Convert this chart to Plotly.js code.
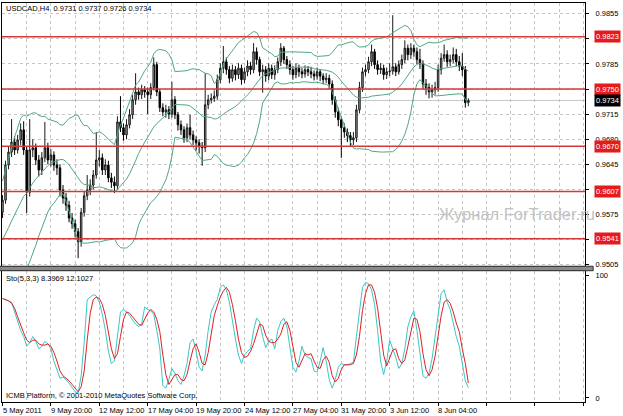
<!DOCTYPE html>
<html><head><meta charset="utf-8">
<script src="https://cdn.plot.ly/plotly-3.0.1.min.js"></script>
<style>html,body{margin:0;padding:0;background:#fff}#chart{width:623px;height:416px}</style>
</head><body><div id="chart"></div>
<script>
const symbolTitle = "USDCAD,H4";
const dateTickBars = [0,16,32,48,64,80,96,112,128,144];
const dateTickLabels = ["5 May 2011","9 May 20:00","12 May 12:00","17 May 04:00","19 May 20:00","24 May 12:00","27 May 04:00","31 May 20:00","3 Jun 12:00","8 Jun 04:00"];
const priceTicks = [0.9505,0.9540,0.9575,0.9610,0.9645,0.9680,0.9715,0.9750,0.9785,0.9820,0.9855];

const opens = [.9578,.9595,.9644,.9662,.9676,.9665,.9679,.9693,.9665,.9606,
.9665,.9668,.9651,.9637,.9654,.9668,.9651,.9658,.9644,.9640,
.9609,.9598,.9588,.9570,.9562,.9551,.9537,.9578,.9601,.9609,
.9616,.9630,.9651,.9654,.9637,.9644,.9626,.9620,.9615,.9704,
.9696,.9686,.9700,.9714,.9735,.9746,.9742,.9749,.9746,.9742,
.9752,.9784,.9746,.9724,.9718,.9721,.9715,.9735,.9714,.9700,
.9693,.9682,.9696,.9686,.9679,.9675,.9670,.9668,.9728,.9735,
.9737,.9740,.9763,.9779,.9788,.9777,.9765,.9777,.9770,.9779,
.9763,.9774,.9782,.9777,.9802,.9791,.9774,.9777,.9768,.9779,
.9770,.9777,.9788,.9807,.9791,.9784,.9777,.9770,.9779,.9774,
.9771,.9777,.9774,.9771,.9768,.9774,.9768,.9763,.9765,.9757,
.9735,.9718,.9707,.9696,.9690,.9685,.9679,.9682,.9721,.9752,
.9774,.9777,.9788,.9802,.9784,.9777,.9779,.9770,.9774,.9775,
.9781,.9774,.9784,.9791,.9807,.9798,.9807,.9802,.9791,.9785,
.9757,.9752,.9746,.9749,.9752,.9777,.9793,.9798,.9788,.9791,
.9798,.9788,.9782,.9777,.9731];
const highs = [.9602,.9650,.9670,.9708,.9684,.9686,.9702,.9705,.9670,.9708,
.9680,.9674,.9658,.9662,.9704,.9675,.9666,.9663,.9652,.9645,
.9616,.9605,.9594,.9577,.9568,.9556,.9584,.9608,.9630,.9624,
.9637,.9690,.9665,.9660,.9652,.9650,.9633,.9628,.9712,.9740,
.9702,.9708,.9722,.9742,.9772,.9752,.9756,.9754,.9752,.9758,
.9794,.9788,.9750,.9730,.9728,.9726,.9760,.9740,.9718,.9706,
.9698,.9702,.9714,.9692,.9684,.9680,.9676,.9772,.9742,.9744,
.9748,.9770,.9786,.9810,.9794,.9782,.9784,.9782,.9786,.9784,
.9780,.9790,.9788,.9814,.9808,.9795,.9784,.9782,.9786,.9784,
.9783,.9794,.9814,.9810,.9796,.9790,.9782,.9786,.9784,.9779,
.9783,.9782,.9781,.9776,.9780,.9778,.9772,.9772,.9770,.9762,
.9740,.9724,.9712,.9702,.9695,.9690,.9690,.9728,.9760,.9780,
.9784,.9795,.9812,.9806,.9790,.9786,.9784,.9780,.9786,.9853,
.9786,.9790,.9798,.9818,.9812,.9814,.9812,.9808,.9806,.9790,
.9764,.9758,.9756,.9760,.9784,.9800,.9812,.9804,.9798,.9808,
.9806,.9796,.9800,.9782,.9737];
const lows = [.9570,.9590,.9638,.9655,.9658,.9660,.9672,.9658,.9577,.9600,
.9655,.9644,.9628,.9630,.9648,.9645,.9642,.9636,.9630,.9600,
.9590,.9580,.9564,.9555,.9543,.9514,.9530,.9572,.9595,.9602,
.9610,.9625,.9642,.9630,.9630,.9620,.9612,.9605,.9610,.9690,
.9678,.9680,.9695,.9708,.9728,.9735,.9736,.9738,.9715,.9736,
.9748,.9740,.9718,.9712,.9710,.9708,.9710,.9708,.9692,.9686,
.9675,.9676,.9680,.9672,.9664,.9660,.9643,.9662,.9722,.9730,
.9732,.9735,.9758,.9772,.9770,.9758,.9760,.9762,.9764,.9756,
.9758,.9768,.9770,.9772,.9784,.9768,.9745,.9760,.9762,.9764,
.9763,.9772,.9782,.9785,.9778,.9770,.9763,.9765,.9767,.9765,
.9766,.9768,.9765,.9762,.9763,.9761,.9757,.9758,.9750,.9728,
.9710,.9698,.9654,.9682,.9676,.9670,.9672,.9676,.9716,.9746,
.9768,.9772,.9782,.9778,.9770,.9771,.9763,.9764,.9768,.9770,
.9768,.9770,.9778,.9786,.9790,.9792,.9795,.9785,.9778,.9750,
.9742,.9737,.9738,.9742,.9746,.9770,.9788,.9781,.9782,.9786,
.9782,.9775,.9768,.9724,.9726];
const closes = [.9595,.9644,.9662,.9676,.9665,.9679,.9693,.9665,.9606,.9665,
.9668,.9651,.9637,.9654,.9668,.9651,.9658,.9644,.9640,.9609,
.9598,.9588,.9570,.9562,.9551,.9537,.9578,.9601,.9609,.9616,
.9630,.9651,.9654,.9637,.9644,.9626,.9620,.9615,.9704,.9696,
.9686,.9700,.9714,.9735,.9746,.9742,.9749,.9746,.9742,.9752,
.9784,.9746,.9724,.9718,.9721,.9715,.9735,.9714,.9700,.9693,
.9682,.9696,.9686,.9679,.9675,.9670,.9668,.9728,.9735,.9737,
.9740,.9763,.9779,.9788,.9777,.9765,.9777,.9770,.9779,.9763,
.9774,.9782,.9777,.9802,.9791,.9774,.9777,.9768,.9779,.9770,
.9777,.9788,.9807,.9791,.9784,.9777,.9770,.9779,.9774,.9771,
.9777,.9774,.9771,.9768,.9774,.9768,.9763,.9765,.9757,.9735,
.9718,.9707,.9696,.9690,.9685,.9679,.9682,.9721,.9752,.9774,
.9777,.9788,.9802,.9784,.9777,.9779,.9770,.9774,.9775,.9781,
.9774,.9784,.9791,.9807,.9798,.9807,.9802,.9791,.9785,.9757,
.9752,.9746,.9749,.9752,.9777,.9793,.9798,.9788,.9791,.9798,
.9788,.9782,.9777,.9731,.9734];
// closes of the 19 bars before the visible window (needed for the 20-bar bands)
const prehistoryCloses = [.9485,.9478,.9490,.9502,.9497,.9510,.9505,.9520,.9515,.9530,
.9545,.9540,.9556,.9570,.9565,.9590,.9610,.9600,.9585];

const stochMain = [81,80,79,78,70,62,55,50,42,45,
50,46,40,42,46,44,40,30,22,16,
17,15,12,8,5,4,18,45,80,82,
84,83,78,68,55,38,28,30,50,70,
72,70,67,63,60,58,60,74,72,71,
68,55,40,10,8,15,24,20,14,11,
18,28,45,48,38,25,22,35,55,70,
76,80,90,92,88,78,62,48,35,28,
35,38,40,55,65,62,50,41,46,48,
40,55,62,65,58,42,25,21,30,42,
35,33,32,22,21,30,41,30,15,8,
15,25,28,27,27,28,29,50,72,90,
94,93,88,76,55,30,19,30,47,40,
33,24,28,40,58,66,71,55,35,18,
16,20,32,50,65,85,88,78,72,60,
50,42,29,14,8.3969];
const stochSignal = [81,80,79,77,73,66,59,53,47,45,
47,47,44,43,43,44,42,37,30,22,
18,16,14,11,8,5,9,22,47,69,
80,82,81,76,67,53,40,32,36,50,
64,70,69,66,63,60,59,64,69,72,
70,64,54,35,19,11,15,19,19,15,
14,19,30,40,44,37,28,27,37,53,
67,75,82,87,90,86,76,63,48,37,
33,34,38,44,53,60,59,51,46,45,
45,48,52,60,62,55,42,29,25,31,
36,35,36,30,25,24,31,34,29,18,
13,16,23,27,27,27,28,35,50,71,
85,92,92,86,73,54,35,26,32,39,
40,32,28,31,42,55,65,64,54,36,
23,18,23,34,49,67,78,80,77,70,
61,54,40,28,12.1027];

const levels = [0.9823, 0.9750, 0.9670, 0.9607, 0.9541];

const n = closes.length;
const bars = closes.map((_, i) => i);

// Bollinger Bands (20, 2)
const period = 20, dev = 2;
const allC = prehistoryCloses.concat(closes);
const off = prehistoryCloses.length;
const bbMid = [], bbUp = [], bbLo = [];
for (let i = 0; i < n; i++) {
  const w = allC.slice(i + off - period + 1, i + off + 1);
  const m = w.reduce((a, b) => a + b, 0) / w.length;
  const sd = Math.sqrt(w.reduce((a, b) => a + (b - m) * (b - m), 0) / w.length);
  bbMid.push(m); bbUp.push(m + dev * sd); bbLo.push(m - dev * sd);
}

// price-axis labels hidden where a level label covers them
const priceTickText = priceTicks.map(v => levels.some(l => Math.abs(l - v) < 0.0005) ? '' : v.toFixed(4));

const F = 'Liberation Sans, Arial, sans-serif';
const bandColor = '#4fa97c';
const traces = [
  {type: 'candlestick', x: bars, open: opens, high: highs, low: lows, close: closes,
   xaxis: 'x', yaxis: 'y', hoverinfo: 'skip', whiskerwidth: 0,
   increasing: {line: {color: '#1a1a1a', width: 1}, fillcolor: '#a8a8a8'},
   decreasing: {line: {color: '#000000', width: 1}, fillcolor: '#000000'}},
  {type: 'scatter', mode: 'lines', x: bars, y: bbUp, xaxis: 'x', yaxis: 'y', line: {color: bandColor, width: 1}, hoverinfo: 'skip'},
  {type: 'scatter', mode: 'lines', x: bars, y: bbMid, xaxis: 'x', yaxis: 'y', line: {color: bandColor, width: 1}, hoverinfo: 'skip'},
  {type: 'scatter', mode: 'lines', x: bars, y: bbLo, xaxis: 'x', yaxis: 'y', line: {color: bandColor, width: 1}, hoverinfo: 'skip'},
  {type: 'scatter', mode: 'lines', x: bars, y: stochMain, xaxis: 'x2', yaxis: 'y2', line: {color: '#3cc6c6', width: 1}, hoverinfo: 'skip'},
  {type: 'scatter', mode: 'lines', x: bars, y: stochSignal, xaxis: 'x2', yaxis: 'y2', line: {color: '#e02020', width: 1}, hoverinfo: 'skip'}
];

const xRange = [-0.165, 192.56];
const gridC = '#c4c4c4';
const commonX = {range: xRange, showline: true, mirror: true, linecolor: '#000', linewidth: 1,
  zeroline: false, showticklabels: false, tickmode: 'linear', tick0: 0, dtick: 16,
  showgrid: true, gridcolor: gridC, griddash: '3px,3px', gridwidth: 1,
  minor: {tickmode: 'linear', tick0: 0, dtick: 8, showgrid: true, gridcolor: gridC, griddash: '3px,3px', gridwidth: 1, ticks: ''},
  fixedrange: true};

const last = n - 1;
const annotations = [];
annotations.push({xref: 'paper', yref: 'paper', x: 0, y: 1, xanchor: 'left', yanchor: 'top', xshift: 2, yshift: 1,
  text: symbolTitle + '  ' + opens[last].toFixed(4) + ' ' + highs[last].toFixed(4) + ' ' + lows[last].toFixed(4) + ' ' + closes[last].toFixed(4),
  showarrow: false, font: {family: F, size: 7.5, color: '#000'}});
annotations.push({xref: 'paper', yref: 'paper', x: 0, y: 0.3283, xanchor: 'left', yanchor: 'top', xshift: 2, yshift: -1,
  text: 'Sto(5,3,3) ' + stochMain[last].toFixed(4) + ' ' + stochSignal[last].toFixed(4),
  showarrow: false, font: {family: F, size: 7.5, color: '#000'}});
annotations.push({xref: 'paper', yref: 'paper', x: 0, y: 0, xanchor: 'left', yanchor: 'bottom', xshift: 2, yshift: 0,
  text: 'ICMB Platform, © 2001-2010 MetaQuotes Software Corp.',
  showarrow: false, font: {family: F, size: 7.5, color: '#000'}});
dateTickBars.forEach((b, k) => annotations.push({xref: 'x2', yref: 'paper', x: b, y: 0, xanchor: 'left', yanchor: 'top',
  xshift: -2, yshift: -2, text: dateTickLabels[k], showarrow: false, font: {family: F, size: 7.5, color: '#000'}}));
levels.forEach(v => annotations.push({xref: 'paper', yref: 'y', x: 1, y: v, xanchor: 'left', yanchor: 'middle', xshift: 9,
  text: v.toFixed(4), showarrow: false, bgcolor: '#e41b1b', borderpad: 1, font: {family: F, size: 7.5, color: '#fff'}}));
annotations.push({xref: 'paper', yref: 'y', x: 1, y: closes[last], xanchor: 'left', yanchor: 'middle', xshift: 9,
  text: closes[last].toFixed(4), showarrow: false, bgcolor: '#000', borderpad: 1, font: {family: F, size: 7.5, color: '#fff'}});
annotations.push({xref: 'paper', yref: 'paper', x: 0.8835, y: 0.4712, xanchor: 'center', yanchor: 'middle',
  text: 'Журнал ForTrader.ru', showarrow: false, font: {family: F, size: 16.5, color: '#c2c2c2'}});

const shapes = [];
shapes.push({type: 'line', xref: 'paper', yref: 'y', x0: 0, x1: 1, y0: closes[last], y1: closes[last],
  line: {color: '#c8c8c8', width: 1}, layer: 'below'});
levels.forEach(v => shapes.push({type: 'line', xref: 'paper', yref: 'y', x0: 0, x1: 1, y0: v, y1: v,
  line: {color: '#d23a3a', width: 1.5}, layer: 'above'}));
shapes.push({type: 'rect', xref: 'paper', yref: 'paper', x0: -0.004, x1: 1.014, y0: 0.3290, y1: 0.3402,
  fillcolor: '#8a8a8a', line: {color: '#333', width: 1}});

const layout = {
  width: 623, height: 416, margin: {l: 2, r: 38, t: 3, b: 14},
  paper_bgcolor: '#fff', plot_bgcolor: '#fff', showlegend: false,
  font: {family: F, size: 7.5, color: '#000'},
  xaxis: Object.assign({}, commonX, {anchor: 'y', domain: [0, 1], ticks: '', rangeslider: {visible: false}}),
  xaxis2: Object.assign({}, commonX, {anchor: 'y2', domain: [0, 1], ticks: 'outside', ticklen: 3, tickcolor: '#000'}),
  yaxis: {domain: [0.3409, 1], range: [0.95031, 0.98700], side: 'right', anchor: 'x',
    tickmode: 'array', tickvals: priceTicks, ticktext: priceTickText, ticks: 'outside', ticklen: 3, tickcolor: '#000',
    ticklabelstandoff: 5, tickfont: {family: F, size: 7.5, color: '#000'},
    showgrid: true, gridcolor: gridC, griddash: '3px,3px', showline: true, mirror: true, linecolor: '#000', linewidth: 1,
    zeroline: false, fixedrange: true},
  yaxis2: {domain: [0, 0.3283], range: [-3.3, 103.3], side: 'right', anchor: 'x2',
    tickmode: 'array', tickvals: [0, 100], ticktext: ['0', '100'], ticks: 'outside', ticklen: 3, tickcolor: '#000',
    ticklabelstandoff: 5, tickfont: {family: F, size: 7.5, color: '#000'},
    showgrid: false, showline: true, mirror: true, linecolor: '#000', linewidth: 1, zeroline: false, fixedrange: true},
  annotations: annotations, shapes: shapes
};
Plotly.newPlot('chart', traces, layout, {staticPlot: true, displayModeBar: false});
</script></body></html>
